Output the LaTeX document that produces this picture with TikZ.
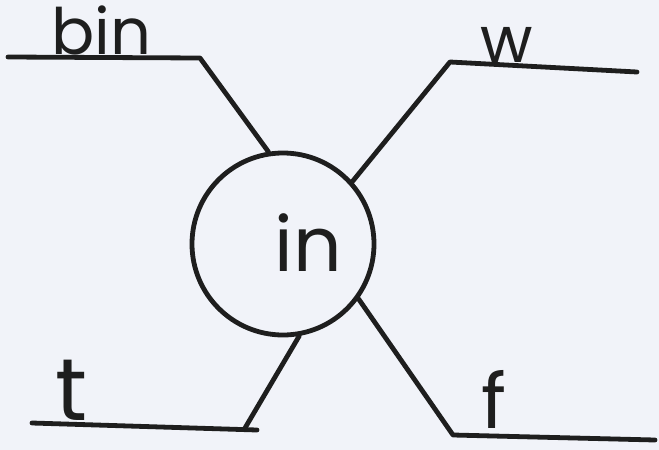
\documentclass[tikz,border=0pt]{standalone}
\usepackage{fontspec}
\setmainfont{Poppins}
\definecolor{paper}{HTML}{F1F3F9}
\definecolor{ink}{HTML}{1E1E1E}

\begin{document}
\begin{tikzpicture}[
    x=0.5pt, y=-0.5pt,
    stroke/.style={line width=2.4pt, draw=ink, line cap=round, line join=round},
    hub/.style={circle, draw=ink, line width=2.4pt, minimum size=91pt,
        inner sep=0pt, text=ink},
    word/.style={font=\fontsize{32}{32}\selectfont, text=ink,
        inner sep=0pt, anchor=base}
]
\fill[paper] (0,0) rectangle (659,450);
\useasboundingbox (0,0) rectangle (659,450);

\node[hub] (hub) at (283,244) {};
\node[word, font=\fontsize{38}{38}\selectfont] (inw) at (308,271) {in};

% ends and knees of the four legs
\coordinate (binend) at (8,57);
\coordinate (binknee) at (200,58);
\coordinate (wknee) at (450,62);
\coordinate (wend) at (637,72);
\coordinate (tend) at (32,423);
\coordinate (tknee) at (245,428);
\coordinate (tstub) at (257,430);
\coordinate (fknee) at (453,435);
\coordinate (fend) at (655,440);

\draw[stroke] (binend) -- (binknee) -- (hub.99);
\draw[stroke] (hub.42) -- (wknee) -- (wend);
\draw[stroke] (hub.-80) -- (tknee);
\draw[stroke] (tend) -- (tstub);
\draw[stroke] (hub.-36) -- (fknee) -- (fend);

% labels on the legs
\node[word] (bin) at (101,54) {bin};
\node[word] (w) at (507,62) {w};
\node[word, font=\fontsize{44}{44}\selectfont] (t) at (72,420) {t};
\node[word, font=\fontsize{38}{38}\selectfont] (f) at (494,428) {f};

\end{tikzpicture}
\end{document}
